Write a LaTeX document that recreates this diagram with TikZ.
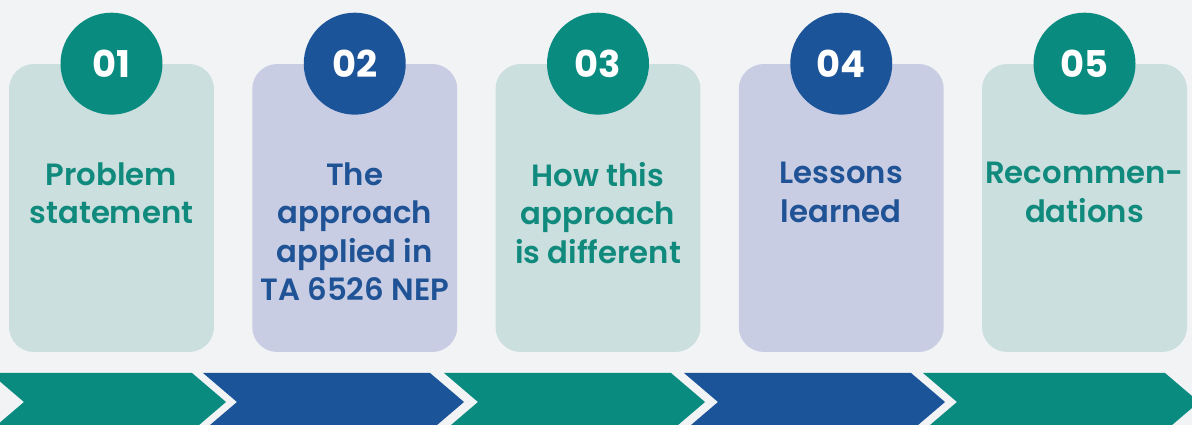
\documentclass[tikz,border=0pt]{standalone}
\usepackage{fontspec}
\setmainfont{Poppins}[BoldFont={Poppins SemiBold}]
\newfontfamily\numfont{Poppins Bold}
\usepackage{xcolor}
\usetikzlibrary{positioning}

\definecolor{bgcol}{HTML}{F1F3F5}
\definecolor{tealdark}{HTML}{0A8B80}
\definecolor{bluedark}{HTML}{1C5499}
\definecolor{teallight}{HTML}{CCDFDF}
\definecolor{bluelight}{HTML}{C8CDE4}
\definecolor{tealtext}{HTML}{118A7E}
\definecolor{bluetext}{HTML}{1F5395}

\begin{document}
\begin{tikzpicture}[
    x=0.02cm, y=0.02cm,
    card/.style={rectangle, rounded corners=0.5cm, minimum width=4.1cm, minimum height=5.76cm, inner sep=0pt},
    badge/.style={circle, minimum size=2.04cm, inner sep=0pt, text=white, font=\fontsize{21}{21}\selectfont\numfont},
    caption/.style={anchor=north, inner sep=0pt, align=center, font=\fontsize{17.5}{21.9}\selectfont\bfseries}
]
    % Background
    \fill[bgcol] (0,0) rectangle (1192,425);
    \useasboundingbox (0,0) rectangle (1192,425);

    % Five cards
    \node[card, fill=teallight] (card1) at (111.5,217) {};
    \node[card, fill=bluelight] (card2) at (354.75,217) {};
    \node[card, fill=teallight] (card3) at (598,217) {};
    \node[card, fill=bluelight] (card4) at (841.25,217) {};
    \node[card, fill=teallight] (card5) at (1084.5,217) {};

    % Numbered circles on the card tops
    \node[badge, fill=tealdark] (num1) at (card1.north) {01};
    \node[badge, fill=bluedark] (num2) at (card2.north) {02};
    \node[badge, fill=tealdark] (num3) at (card3.north) {03};
    \node[badge, fill=bluedark] (num4) at (card4.north) {04};
    \node[badge, fill=tealdark] (num5) at (card5.north) {05};

    % Card texts
    \node[caption, text=tealtext] (text1) at (111.5,263) {Problem\\statement};
    \node[caption, text=bluetext] (text2) at (354.75,263) {The\\approach\\applied in\\TA 6526 NEP};
    \node[caption, text=tealtext] (text3) at (598,263) {How this\\approach\\is different};
    \node[caption, text=bluetext] (text4) at (841.25,263) {Lessons\\learned};
    \node[caption, text=tealtext] (text5) at (1084.5,263) {Recommen-\\dations};

    % Chevron band
    \fill[tealdark] (-10,52) -- (192,52) -- (226,23) -- (192,-6) -- (-10,-6) -- (24,23) -- cycle;
    \fill[bluedark] (203,52) -- (430,52) -- (464,23) -- (430,-6) -- (203,-6) -- (237,23) -- cycle;
    \fill[tealdark] (444,52) -- (671,52) -- (705,23) -- (671,-6) -- (444,-6) -- (478,23) -- cycle;
    \fill[bluedark] (684,52) -- (911,52) -- (945,23) -- (911,-6) -- (684,-6) -- (718,23) -- cycle;
    \fill[tealdark] (923,52) -- (1165,52) -- (1199,23) -- (1165,-6) -- (923,-6) -- (957,23) -- cycle;
\end{tikzpicture}
\end{document}
